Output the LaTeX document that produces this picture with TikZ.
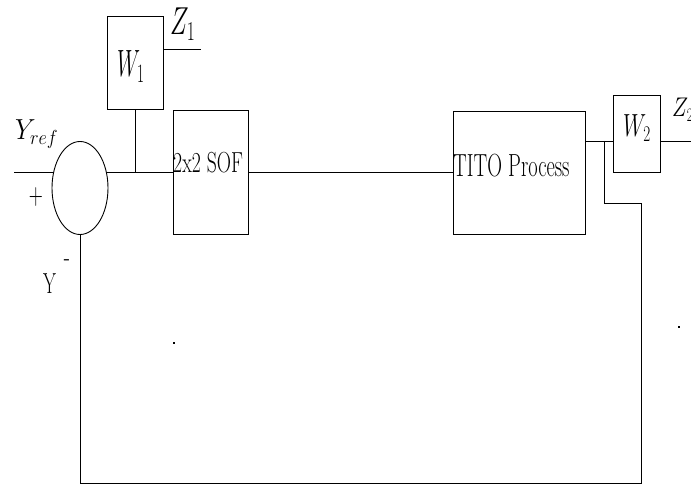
\RequirePackage{fix-cm}
\documentclass[tikz,border=0pt]{standalone}
\usepackage{graphicx}
\usetikzlibrary{shapes.geometric}
\newcommand{\lbl}[3]{\scalebox{#2}[1]{\fontsize{#1}{#1}\selectfont #3}}
\begin{document}
\begin{tikzpicture}[x=1pt,y=-1pt,
  blockbox/.style={draw,line width=0.9pt,inner sep=0pt},
  wire/.style={line width=0.8pt},
  txt/.style={inner sep=0pt,anchor=base west}]
\useasboundingbox (0,0) rectangle (691,484);
% blocks
\node[blockbox,minimum width=56pt,minimum height=93pt] (w1) at (135,62.5) {};
\node[blockbox,ellipse,minimum width=56pt,minimum height=93pt] (sum) at (80,188) {};
\node[blockbox,minimum width=75pt,minimum height=124pt] (sof) at (210.5,172.5) {};
\node[blockbox,minimum width=132pt,minimum height=123pt] (tito) at (519,172.5) {};
\node[blockbox,minimum width=47pt,minimum height=77pt] (w2) at (636.5,133.5) {};
% coordinates
\coordinate (inL) at (14,172.5);
\coordinate (z1end) at (201,49);
\coordinate (tap) at (604,141);
\coordinate (z2end) at (691,141);
\coordinate (fbR) at (641,203);
\coordinate (fbB) at (641,483);
% wires
\draw[wire] (inL) -- (inL -| sum.150);
\draw[wire] (sof.west -| sum.30) -- (sof.west);
\draw[wire] (w1.south) -- (w1.south |- sof.west);
\draw[wire] (z1end -| w1.east) -- (z1end);
\draw[wire] (sof.east) -- (tito.west);
\draw[wire] (tap -| tito.east) -- (tap -| w2.west);
\draw[wire] (z2end -| w2.east) -- (z2end);
\draw[wire] (tap) |- (fbR) -- (fbB) -| (sum.south);
% labels
\node[txt] (tw1) at (117,77) {\lbl{38}{0.57}{$W_1$}};
\node[txt] (tz1) at (170,35) {\lbl{39}{0.64}{$Z_1$}};
\node[txt] (tyref) at (15,140) {\lbl{29}{0.9}{$Y_{ref}$}};
\node[inner sep=0pt] (tplus) at (36,197) {\lbl{30}{0.65}{$+$}};
\node[inner sep=0pt] (tminus) at (67,263) {\lbl{29}{0.7}{-}};
\node[txt] (ty) at (43,293) {\lbl{29}{0.64}{Y}};
\node[txt] (tsof) at (173,173) {\lbl{29}{0.68}{2x2 SOF}};
\node[txt] (ttito) at (453,177) {\lbl{32}{0.64}{TITO Process}};
\node[txt] (tw2) at (623,137) {\lbl{32}{0.68}{$W_2$}};
\node[txt] (tz2) at (672,117) {\lbl{27}{0.8}{$Z_2$}};
% stray dots
\fill (173.3,342.3) rectangle (174.7,343.7);
\fill (678.3,326.3) rectangle (679.7,327.7);
\end{tikzpicture}
\end{document}
